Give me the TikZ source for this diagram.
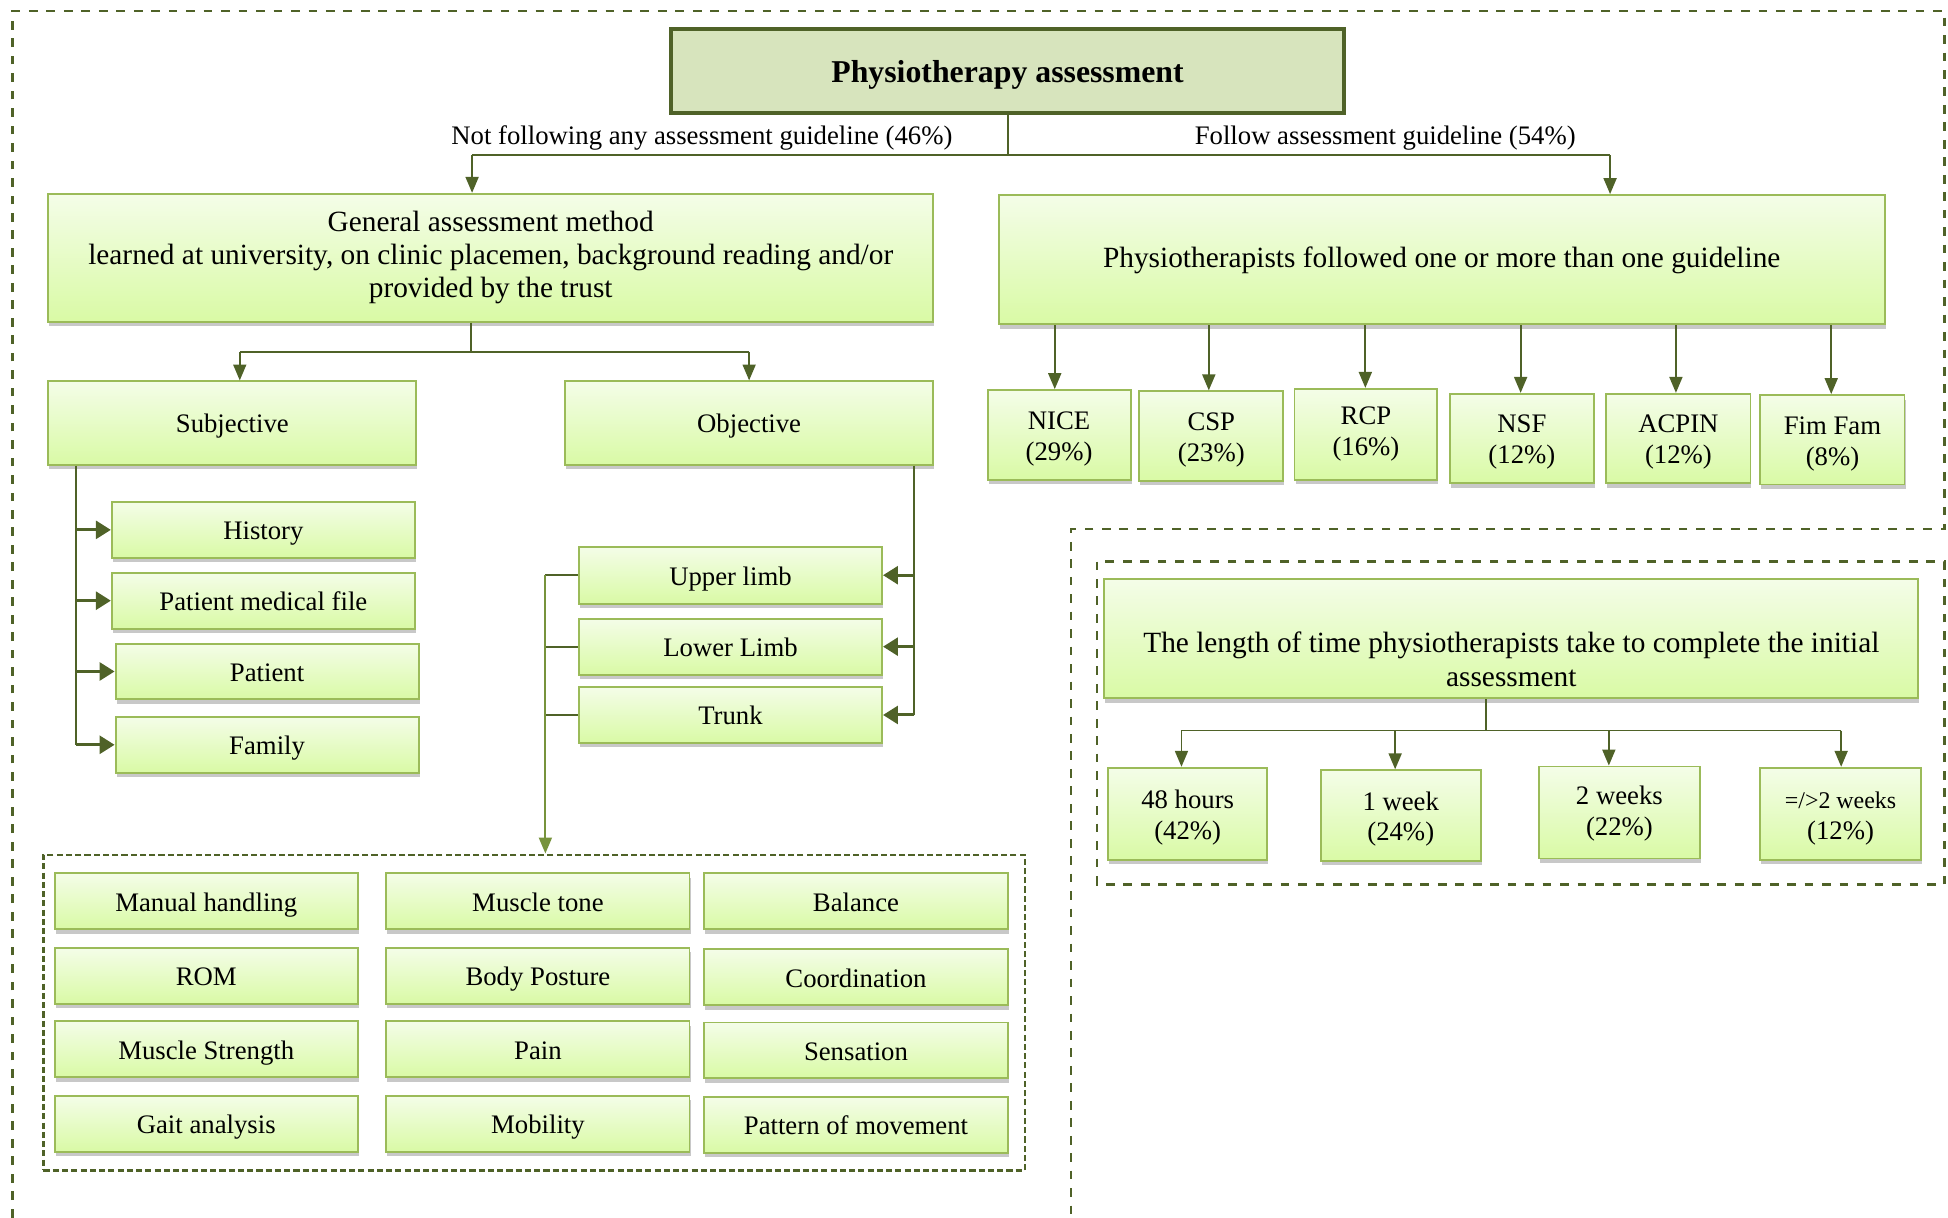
\documentclass[tikz,border=0pt]{standalone}
\usepackage{fontspec}
\setmainfont{Liberation Serif}
\usetikzlibrary{arrows.meta,shadows}

\definecolor{dkgreen}{HTML}{4F6228}
\definecolor{ltgreen}{HTML}{77933C}
\definecolor{bord}{HTML}{9BBB59}
\definecolor{gtop}{HTML}{F4FDE8}
\definecolor{gbot}{HTML}{D9FAA5}
\definecolor{titlefill}{HTML}{D7E4BD}
\definecolor{shade}{HTML}{C8C8C8}

\tikzset{
  tdrop/.store in=\tdrop, tdrop=2.13pt,
  txt/.style={font=\fontsize{15.3}{17.7}\selectfont},
  bigtxt/.style={font=\fontsize{16.8}{19.1}\selectfont},
  gbox/.style={txt, draw=bord, line width=1.1pt, top color=gtop, bottom color=gbot,
    inner sep=0pt,
    drop shadow={shadow xshift=0.02cm, shadow yshift=-0.09cm, fill=shade, opacity=1}},
  titlebox/.style={draw=dkgreen, line width=2.3pt, fill=titlefill,
    inner sep=0pt, font=\fontsize{18.2}{22}\selectfont\bfseries},
  lbl/.style={txt, inner sep=0pt},
  conn/.style={draw=dkgreen, line width=1.1pt},
  arr/.style={conn, -{Triangle[length=0.32cm, width=0.26cm]}},
  sidearr/.style={draw=dkgreen, line width=1.7pt, -{Triangle[length=0.3cm, width=0.36cm]}},
  outerframe/.style={draw=dkgreen, line width=1.4pt, dash pattern=on 5pt off 5pt},
  innerframe/.style={draw=dkgreen, line width=1.4pt, dash pattern=on 3.5pt off 1.8pt},
}

% \place{style}{name}{x1}{y1}{x2}{y2}{text}: centred lines, lowered by \tdrop
\newcommand\place[7]{%
  \node[#1, minimum width={(#5-#3)*0.025cm}, minimum height={(#6-#4)*0.025cm}]
    (#2) at ({(#3+#5)/2},{(#4+#6)/2})
    {\raisebox{-\tdrop}[\height][\depth]{\begin{tabular}{@{}c@{}}#7\end{tabular}}};}

\begin{document}
\begin{tikzpicture}[x=0.025cm, y=-0.025cm]
\useasboundingbox (0,0) rectangle (1568,980);

% dashed frames
\draw[outerframe] (10,980) -- (10,9) -- (1565,9) -- (1565,426) -- (862,426) -- (862,980);
\draw[outerframe] (883,452) rectangle (1565,712);
\node[innerframe, minimum width={790*0.025cm}, minimum height={254*0.025cm}] (grid) at (430,815) {};

% top level
\place{titlebox}{title}{540}{23}{1082}{91}{Physiotherapy assessment}
\place{gbox,bigtxt,tdrop=0pt}{gen}{39}{156}{751}{259}{General assessment method\\learned at university, on clinic placemen, background reading and/or\\provided by the trust}
\place{gbox,bigtxt,tdrop=0.7pt}{fol}{804}{157}{1517}{261}{Physiotherapists followed one or more than one guideline}

\node[lbl] (lnot) at (565,111) {Not following any assessment guideline (46\%)};
\node[lbl] (lfol) at (1115,111) {Follow assessment guideline (54\%)};

\coordinate (j1) at (811,125);
\coordinate (ja) at (380,125);
\coordinate (jb) at (1296,125);
\draw[conn] (title.south) -- (j1);
\draw[conn] (ja) -- (jb);
\draw[arr] (ja) -- (ja |- gen.north);
\draw[arr] (jb) -- (jb |- fol.north);

% guidelines
\place{gbox}{nice}{795}{314}{910}{386}{NICE\\(29\%)}
\place{gbox}{csp}{917}{315}{1033}{387}{CSP\\(23\%)}
\place{gbox,tdrop=0pt}{rcp}{1042}{313}{1157}{386}{RCP\\(16\%)}
\place{gbox}{nsf}{1167}{317}{1283}{389}{NSF\\(12\%)}
\place{gbox}{acpin}{1293}{317}{1409}{389}{ACPIN\\(12\%)}
\place{gbox}{fim}{1417}{318}{1533}{390}{Fim Fam\\(8\%)}
\foreach \n/\xx in {nice/849, csp/973, rcp/1099, nsf/1224, acpin/1349, fim/1474}{
  \coordinate (g-\n) at (\xx,0);
  \draw[arr] (g-\n |- fol.south) -- (g-\n |- \n.north);
}

% subjective / objective
\place{gbox}{sub}{39}{307}{335}{374}{Subjective}
\place{gbox}{obj}{455}{307}{751}{374}{Objective}
\coordinate (j2) at (379,283);
\coordinate (js) at (193,283);
\coordinate (jo) at (603,283);
\draw[conn] (j2 |- gen.south) -- (j2);
\draw[conn] (js) -- (jo);
\draw[arr] (js) -- (js |- sub.north);
\draw[arr] (jo) -- (jo |- obj.north);

\place{gbox}{his}{90}{404}{334}{449}{History}
\place{gbox}{pmf}{90}{461}{334}{506}{Patient medical file}
\place{gbox}{pat}{93}{518}{337}{563}{Patient}
\place{gbox}{fam}{93}{577}{337}{622}{Family}
\coordinate (sb) at (61,0);
\draw[conn] (sb |- sub.south) -- (sb |- fam.west);
\foreach \n in {his, pmf, pat, fam}{
  \draw[sidearr] (sb |- \n.west) -- (\n.west);
}

\place{gbox}{upl}{466}{440}{710}{486}{Upper limb}
\place{gbox}{lwl}{466}{498}{710}{543}{Lower Limb}
\place{gbox}{trk}{466}{553}{710}{598}{Trunk}
\coordinate (ob) at (736,0);
\draw[conn] (ob |- obj.south) -- (ob |- trk.east);
\foreach \n in {upl, lwl, trk}{
  \draw[sidearr] (ob |- \n.east) -- (\n.east);
}

\coordinate (lb) at (439,0);
\foreach \n in {upl, lwl, trk}{
  \draw[conn] (\n.west) -- (lb |- \n.west);
}
\draw[conn, draw=ltgreen, -{Triangle[length=0.32cm, width=0.26cm]}]
  (lb |- upl.west) -- (lb |- grid.north);

% objective measures
\place{gbox}{m11}{44}{703}{288}{748}{Manual handling}
\place{gbox}{m12}{311}{703}{555}{748}{Muscle tone}
\place{gbox}{m13}{567}{703}{811}{748}{Balance}
\place{gbox}{m21}{44}{763}{288}{808}{ROM}
\place{gbox}{m22}{311}{763}{555}{808}{Body Posture}
\place{gbox}{m23}{567}{764}{811}{809}{Coordination}
\place{gbox}{m31}{44}{822}{288}{867}{Muscle Strength}
\place{gbox}{m32}{311}{822}{555}{867}{Pain}
\place{gbox}{m33}{567}{823}{811}{868}{Sensation}
\place{gbox}{m41}{44}{882}{288}{927}{Gait analysis}
\place{gbox}{m42}{311}{882}{555}{927}{Mobility}
\place{gbox}{m43}{567}{883}{811}{928}{Pattern of movement}

% initial assessment time
\place{gbox,bigtxt,tdrop=13.9pt}{len}{889}{466}{1544}{562}{The length of time physiotherapists take to complete the initial\\assessment}
\place{gbox}{t1}{892}{618}{1020}{692}{48 hours\\(42\%)}
\place{gbox}{t2}{1063}{620}{1192}{693}{1 week\\(24\%)}
\place{gbox,tdrop=0.7pt}{t3}{1239}{617}{1368}{691}{2 weeks\\(22\%)}
\place{gbox}{t4}{1417}{618}{1546}{692}{{\fontsize{13.7}{17.7}\selectfont =/>2 weeks}\\(12\%)}
\coordinate (j3) at (1196,588);
\coordinate (ta) at (951,588);
\coordinate (tb) at (1123,588);
\coordinate (tc) at (1295,588);
\coordinate (td) at (1482,588);
\draw[conn] (j3 |- len.south) -- (j3);
\draw[conn] (ta) -- (td);
\foreach \c/\n in {ta/t1, tb/t2, tc/t3, td/t4}{
  \draw[arr] (\c) -- (\c |- \n.north);
}
\end{tikzpicture}
\end{document}
